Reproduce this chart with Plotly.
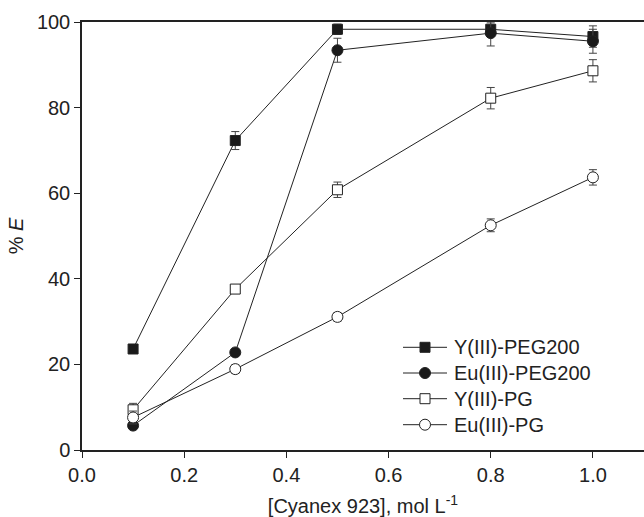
import plotly.graph_objects as go

x = [0.1, 0.3, 0.5, 0.8, 1.0]
names = ["Y(III)-PEG200", "Eu(III)-PEG200", "Y(III)-PG", "Eu(III)-PG"]
y_peg_Y = [23.6, 72.3, 98.3, 98.3, 96.6]
y_peg_Eu = [5.7, 22.8, 93.4, 97.4, 95.5]
y_pg_Y = [9.4, 37.6, 60.8, 82.2, 88.6]
y_pg_Eu = [7.6, 18.9, 31.1, 52.5, 63.7]
err_peg_Y = [0.8, 2.1, 1.2, 1.5, 2.5]
err_peg_Eu = [0.6, 0.8, 2.8, 3.0, 2.8]
err_pg_Y = [1.5, 0.8, 1.8, 2.5, 2.6]
err_pg_Eu = [1.5, 1.0, 1.0, 1.5, 1.8]

series = [
    (names[0], y_peg_Y, err_peg_Y, "square", "#1a1a1a", 10),
    (names[1], y_peg_Eu, err_peg_Eu, "circle", "#1a1a1a", 11),
    (names[2], y_pg_Y, err_pg_Y, "square", "white", 10),
    (names[3], y_pg_Eu, err_pg_Eu, "circle", "white", 11),
]

LINE = "#222222"
fig = go.Figure()
for name, ys, es, sym, fill, sz in series:
    fig.add_trace(go.Scatter(
        x=x, y=ys, name=name, mode="lines+markers", showlegend=False,
        line=dict(color=LINE, width=1),
        marker=dict(symbol=sym, size=sz, color=fill,
                    line=dict(color=LINE, width=1)),
        error_y=dict(type="data", array=es, visible=True,
                     color="#444444", thickness=1, width=4),
    ))

# Manual legend (pixel-sized glyphs anchored in data space)
W, H = 644, 517
ml, mr, mt, mb = 82, 0, 22, 67
pw, ph = W - ml - mr, H - mt - mb
XR, YR = [0, 1.1], [0, 100]

def px2x(px):
    return XR[0] + (px - ml) / pw * (XR[1] - XR[0])

def py2y(py):
    return YR[0] + (H - mb - py) / ph * (YR[1] - YR[0])

leg_rows = [347.3, 373.0, 398.7, 424.7]
for (name, ys, es, sym, fill, sz), ry in zip(series, leg_rows):
    yy = py2y(ry)
    fig.add_shape(type="line", xref="x", yref="y",
                  x0=px2x(403), x1=px2x(447), y0=yy, y1=yy,
                  line=dict(color=LINE, width=1))
    half = sz / 2
    fig.add_shape(type="rect" if sym == "square" else "circle",
                  xref="x", yref="y", xsizemode="pixel", ysizemode="pixel",
                  xanchor=px2x(425), yanchor=yy,
                  x0=-half, x1=half, y0=-half, y1=half,
                  fillcolor=fill, line=dict(color=LINE, width=1))
    fig.add_annotation(x=px2x(452), y=yy, xref="x", yref="y",
                       text=name, showarrow=False, xanchor="left",
                       yanchor="middle", font=dict(size=20, color=LINE))

font = "Liberation Sans, Arial, sans-serif"
fig.update_layout(
    width=W, height=H,
    margin=dict(l=ml, r=mr, t=mt, b=mb),
    paper_bgcolor="white", plot_bgcolor="white",
    font=dict(family=font, size=20, color=LINE),
    showlegend=False,
    xaxis=dict(range=XR, tickvals=[0, 0.2, 0.4, 0.6, 0.8, 1.0],
               ticktext=["0.0", "0.2", "0.4", "0.6", "0.8", "1.0"],
               tickfont=dict(size=20),
               showgrid=False, zeroline=False, showline=True,
               linecolor=LINE, linewidth=1.5, mirror=True,
               ticks="outside", ticklen=6, tickwidth=1.2, tickcolor=LINE,
               title=dict(text="[Cyanex 923], mol L<sup>-1</sup>", standoff=17,
                          font=dict(size=20))),
    yaxis=dict(range=YR, tickvals=[0, 20, 40, 60, 80, 100],
               tickfont=dict(size=20),
               showgrid=False, zeroline=False, showline=True,
               linecolor=LINE, linewidth=1.5,
               ticks="outside", ticklen=6, tickwidth=1.2, tickcolor=LINE,
               title=dict(text="% <i>E</i>", standoff=8, font=dict(size=20))),
)

fig.write_html("out.html")
